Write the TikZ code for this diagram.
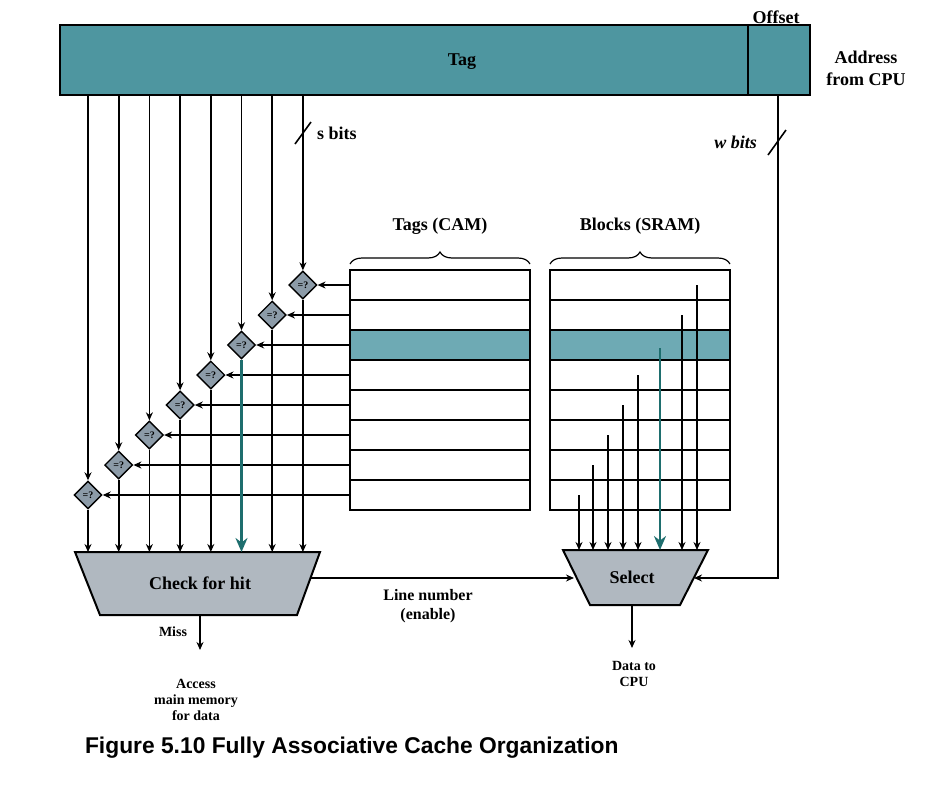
\documentclass[tikz,border=0pt]{standalone}
\usepackage{fontspec}
\setmainfont{Liberation Serif}
\setsansfont{Liberation Sans}
\usetikzlibrary{arrows.meta,shapes.geometric,decorations.pathreplacing}
\definecolor{barteal}{RGB}{78,150,160}
\definecolor{rowteal}{RGB}{110,170,180}
\definecolor{cmpgray}{RGB}{140,155,168}
\definecolor{boxgray}{RGB}{176,184,192}
\definecolor{arrteal}{RGB}{30,110,110}
\tikzset{
  wire/.style={line width=0.8pt, -{Stealth[length=4pt,width=3.5pt]}},
  bigwire/.style={line width=1.4pt, arrteal, -{Stealth[length=7pt,width=6pt]}},
  cmp/.style={diamond, draw, line width=0.7pt, fill=cmpgray, inner sep=0pt, minimum size=14pt, font=\tiny\bfseries},
  lbl/.style={font=\bfseries\small},
  small lbl/.style={font=\bfseries\scriptsize, align=center}
}
\begin{document}
\begin{tikzpicture}[x=0.5pt, y=-0.5pt]
  \useasboundingbox (0,0) rectangle (949,788);
  \def\rowh{30}
  \def\rtop{270}

  % Address register
  \draw[line width=1pt, fill=barteal] (60,25) rectangle (810,95);
  \draw[line width=1pt] (748,25) -- (748,95);
  \node[lbl] (tag) at (462,62) {Tag};
  \node[lbl] (offset) at (776,17) {Offset};
  \node[lbl, align=center] (addr) at (866,68) {Address\\from CPU};

  % Tag memory and block memory
  \foreach \bx/\nm in {350/cam, 550/sram} {
    \fill[rowteal] (\bx,\rtop+2*\rowh) rectangle (\bx+180,\rtop+3*\rowh);
    \draw[line width=1pt] (\bx,\rtop) rectangle (\bx+180,\rtop+8*\rowh);
    \foreach \k in {1,...,7}
      \draw[line width=1pt] (\bx,\rtop+\k*\rowh) -- (\bx+180,\rtop+\k*\rowh);
    \draw[decorate, decoration={brace, amplitude=6pt}, line width=0.6pt]
      (\bx,\rtop-6) -- (\bx+180,\rtop-6);
  }
  \node[lbl] (camlbl) at (440,226) {Tags (CAM)};
  \node[lbl] (sramlbl) at (640,226) {Blocks (SRAM)};

  % Check for hit and select
  \draw[line width=1pt, fill=boxgray] (75,552) -- (320,552) -- (297,615) -- (100,615) -- cycle;
  \node[lbl] (hit) at (200,583) {Check for hit};
  \draw[line width=1pt, fill=boxgray] (563,550) -- (708,550) -- (680,605) -- (590,605) -- cycle;
  \node[lbl] (select) at (632,577) {Select};

  % Comparators
  \foreach \i in {0,...,7} {
    \pgfmathsetmacro{\cx}{88+30.7*\i}
    \pgfmathsetmacro{\cy}{\rtop+15+\rowh*(7-\i)}
    \node[cmp] (c\i) at (\cx,\cy) {=?};
    \coordinate (t\i) at (\cx,95);
    \coordinate (h\i) at (\cx,552);
    \coordinate (r\i) at (350,\cy);
    \draw[wire] (t\i) -- (c\i);
    \draw[wire] (r\i) -- (c\i);
    \ifnum\i=5
      \draw[bigwire] (c\i) -- (h\i);
    \else
      \draw[wire] (c\i) -- (h\i);
    \fi
  }
  \draw[line width=0.8pt] (295,144) -- (311,122);
  \node[lbl, anchor=west] (sbits) at (310,133) {s bits};

  % Block lines into select
  \foreach \bxx/\k in {579/7, 593/6, 608/5, 623/4, 638/3, 682/1, 697/0} {
    \coordinate (b\k) at (\bxx,\rtop+15+\k*\rowh);
    \coordinate (s\k) at (\bxx,550);
    \draw[wire] (b\k) -- (s\k);
  }
  \coordinate (b2) at (660,\rtop+78);
  \coordinate (s2) at (660,550);
  \draw[bigwire] (b2) -- (s2);

  % Offset to select
  \coordinate (woff) at (778,95);
  \coordinate (wturn) at (778,578);
  \coordinate (sel in) at (694,578);
  \draw[wire] (woff) -- (wturn) -- (sel in);
  \draw[line width=0.8pt] (768,155) -- (786,130);
  \node[lbl, anchor=east] (wbits) at (764,142) {\itshape w bits};

  % Line number
  \coordinate (hit out) at (310,578);
  \coordinate (sel left) at (574,578);
  \draw[wire] (hit out) -- (sel left);
  \node[small lbl, font=\bfseries\footnotesize] (linenum) at (428,606) {Line number\\(enable)};

  % Outputs
  \coordinate (miss a) at (200,615);
  \coordinate (miss b) at (200,650);
  \draw[wire] (miss a) -- (miss b);
  \node[small lbl] (miss) at (173,632) {Miss};
  \node[small lbl] (access) at (196,700) {Access\\main memory\\for data};
  \coordinate (data a) at (632,605);
  \coordinate (data b) at (632,648);
  \draw[wire] (data a) -- (data b);
  \node[small lbl] (data) at (634,674) {Data to\\CPU};

  \node[font=\sffamily\bfseries\fontsize{11.4}{13}\selectfont, anchor=west] (caption) at (78,748)
    {Figure 5.10 Fully Associative Cache Organization};
\end{tikzpicture}
\end{document}
